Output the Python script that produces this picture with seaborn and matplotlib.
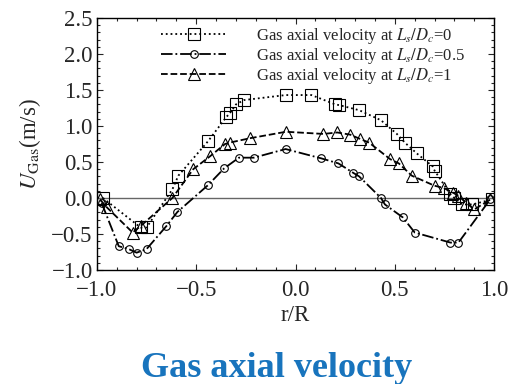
import numpy as np
import pandas as pd
import matplotlib
matplotlib.use("Agg")
import matplotlib.pyplot as plt
from matplotlib.ticker import MultipleLocator
import seaborn as sns

# Data
x_ls0 = [-0.97, -0.78, -0.75, -0.62, -0.59, -0.44, -0.35, -0.33, -0.30, -0.26, -0.05, 0.08,
         0.20, 0.22, 0.32, 0.43, 0.51, 0.55, 0.61, 0.69, 0.70, 0.78, 0.80, 0.84, 0.89, 0.99]
y_ls0 = [0.00, -0.41, -0.41, 0.12, 0.31, 0.79, 1.12, 1.18, 1.30, 1.36, 1.43, 1.43,
         1.30, 1.29, 1.22, 1.08, 0.89, 0.77, 0.62, 0.44, 0.38, 0.05, 0.00, -0.09, -0.09, -0.02]

x_ls05 = [-0.976, -0.89, -0.84, -0.80, -0.75, -0.65, -0.595, -0.44, -0.36, -0.285, -0.21, -0.05,
          0.13, 0.216, 0.29, 0.32, 0.43, 0.45, 0.54, 0.60, 0.78, 0.82, 0.98]
y_ls05 = [-0.07, -0.67, -0.71, -0.76, -0.71, -0.39, -0.195, 0.18, 0.41, 0.56, 0.56, 0.68,
          0.55, 0.48, 0.35, 0.30, 0.00, -0.09, -0.27, -0.48, -0.62, -0.62, -0.02]

x_ls1 = [-0.985, -0.95, -0.82, -0.78, -0.62, -0.515, -0.43, -0.355, -0.33, -0.23, -0.048,
         0.14, 0.21, 0.275, 0.325, 0.37, 0.476, 0.52, 0.585, 0.70, 0.745, 0.795, 0.82, 0.86, 0.90, 0.98]
y_ls1 = [-0.02, -0.13, -0.48, -0.39, 0.00, 0.40, 0.58, 0.75, 0.77, 0.83, 0.92,
         0.89, 0.91, 0.88, 0.82, 0.77, 0.54, 0.48, 0.31, 0.17, 0.14, 0.07, 0.03, -0.07, -0.16, -0.02]

labels = [r"Gas axial velocity at $L_s/D_c$=0",
          r"Gas axial velocity at $L_s/D_c$=0.5",
          r"Gas axial velocity at $L_s/D_c$=1"]
x_ticks = [-1.0, -0.5, 0.0, 0.5, 1.0]
y_ticks = [-1.0, -0.5, 0.0, 0.5, 1.0, 1.5, 2.0, 2.5]

sns.set_style("ticks")
plt.rcParams["font.family"] = ["Liberation Serif", "DejaVu Serif"]
plt.rcParams["mathtext.fontset"] = "stix"

fig = plt.figure(figsize=(5.1, 3.84), dpi=100)
ax = fig.add_axes([0.190, 0.297, 0.779, 0.656])

ax.axhline(0, color="#666666", lw=1.0, zorder=1)

series = [
    (x_ls0, y_ls0, labels[0], "s", ":", 9),
    (x_ls05, y_ls05, labels[1], "o", "-.", 5.5),
    (x_ls1, y_ls1, labels[2], "^", "--", 8),
]
for xs, ys, lab, mk, ls, ms in series:
    df = pd.DataFrame({"x": xs, "y": ys})
    sns.lineplot(data=df, x="x", y="y", sort=False, ax=ax, color="black",
                 linestyle=ls, lw=1.3, marker=mk, markersize=ms,
                 markerfacecolor="none", markeredgecolor="black",
                 markeredgewidth=0.8, label=lab)

ax.set_xlim(-1.0, 1.0)
ax.set_ylim(-1.0, 2.5)
ax.set_xticks(x_ticks)
ax.set_yticks(y_ticks)
ax.xaxis.set_minor_locator(MultipleLocator(0.1))
ax.yaxis.set_minor_locator(MultipleLocator(0.1))
ax.tick_params(which="both", direction="in", top=True, right=True, labelsize=16.5, width=0.8)
ax.tick_params(which="major", length=4)
ax.tick_params(axis="x", which="major", pad=7)
ax.tick_params(axis="y", which="major", pad=3)
ax.tick_params(which="minor", length=2)
for s in ax.spines.values():
    s.set_linewidth(1.0)
    s.set_color("black")

ax.set_xlabel("r/R", fontsize=16.5, labelpad=3)
ax.set_ylabel(r"$U_{\mathrm{Gas}}$(m/s)", fontsize=16.5, labelpad=6)

leg = ax.legend(loc="upper center", bbox_to_anchor=(0.545, 1.015), frameon=False,
                fontsize=12, handlelength=3.9, labelspacing=0.0,
                handletextpad=1.8, borderaxespad=0.3)

fig.text(0.542, 0.040, "Gas axial velocity", color="#1874bd", fontsize=26,
         fontweight="bold", ha="center", va="center")

fig.savefig("out.png", dpi=100)
